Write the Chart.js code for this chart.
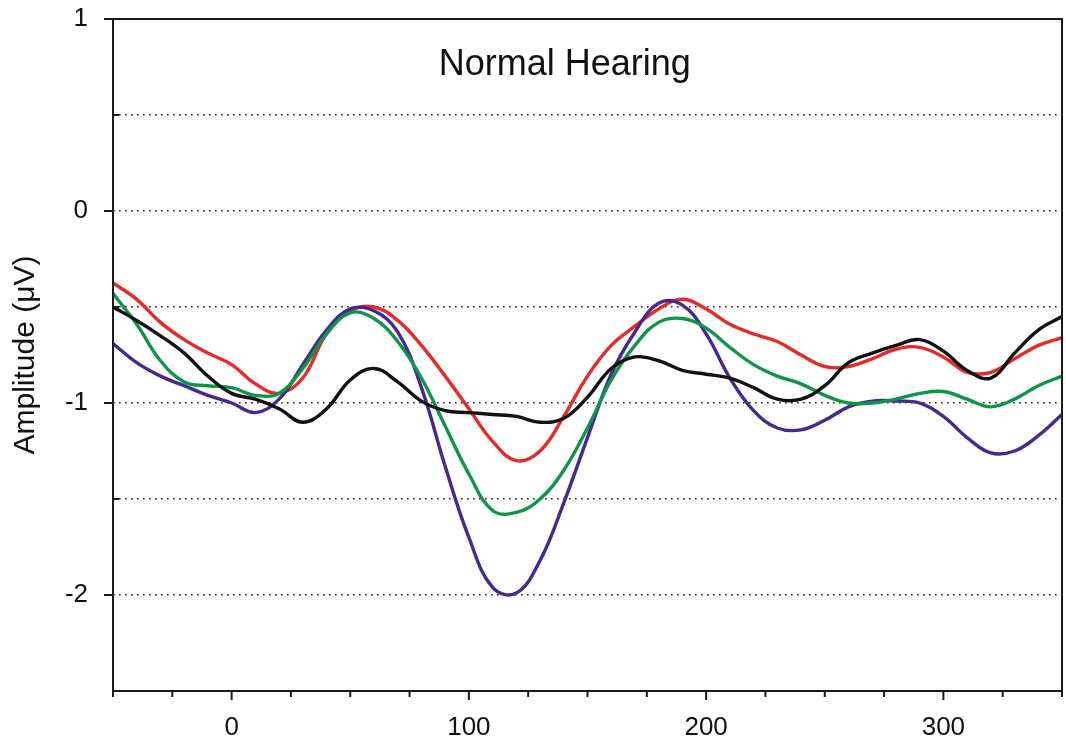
<!DOCTYPE html>
<html>
<head>
<meta charset="utf-8">
<script src="https://cdn.jsdelivr.net/npm/chart.js@4"></script>
<style>
  html, body { margin: 0; padding: 0; background: #ffffff; }
  #wrap { width: 1066px; height: 753px; position: relative; }
</style>
</head>
<body>
<div id="wrap"><canvas id="c" width="1066" height="753"></canvas></div>
<script>
// Time (ms) sample points
const times = [-50,-40,-30,-20,-10,0,10,20,30,40,50,60,70,80,90,100,110,120,130,140,150,160,170,180,190,200,210,220,230,240,250,260,270,280,290,300,310,320,330,340,350];

// Amplitude (µV) series
const blackSeries = [-0.50,-0.57,-0.65,-0.74,-0.86,-0.95,-0.98,-1.03,-1.10,-1.03,-0.88,-0.82,-0.89,-0.99,-1.04,-1.05,-1.06,-1.07,-1.10,-1.08,-0.97,-0.82,-0.76,-0.78,-0.83,-0.85,-0.87,-0.92,-0.98,-0.98,-0.91,-0.79,-0.74,-0.70,-0.67,-0.73,-0.83,-0.87,-0.74,-0.62,-0.55];
const redSeries   = [-0.375,-0.46,-0.58,-0.67,-0.74,-0.80,-0.90,-0.95,-0.87,-0.64,-0.52,-0.50,-0.57,-0.70,-0.86,-1.03,-1.20,-1.30,-1.25,-1.07,-0.86,-0.70,-0.60,-0.51,-0.46,-0.51,-0.59,-0.64,-0.68,-0.75,-0.81,-0.81,-0.77,-0.72,-0.71,-0.76,-0.84,-0.84,-0.77,-0.70,-0.66];
const greenSeries = [-0.43,-0.59,-0.78,-0.89,-0.91,-0.92,-0.96,-0.95,-0.82,-0.64,-0.53,-0.56,-0.68,-0.87,-1.12,-1.37,-1.56,-1.57,-1.50,-1.35,-1.13,-0.88,-0.70,-0.58,-0.56,-0.61,-0.71,-0.80,-0.86,-0.90,-0.96,-1.00,-1.00,-0.98,-0.95,-0.94,-0.98,-1.02,-0.98,-0.91,-0.86];
const purpleSeries= [-0.69,-0.79,-0.86,-0.91,-0.96,-1.00,-1.05,-0.98,-0.80,-0.62,-0.51,-0.52,-0.63,-0.92,-1.33,-1.70,-1.96,-1.99,-1.82,-1.52,-1.18,-0.85,-0.63,-0.48,-0.49,-0.64,-0.87,-1.04,-1.13,-1.14,-1.09,-1.02,-0.99,-0.99,-1.00,-1.07,-1.18,-1.26,-1.25,-1.17,-1.06];

// Axis labels
const xTickLabels = [0, 100, 200, 300];
const yTickLabels = [1, 0, -1, -2];
const chartTitle = "Normal Hearing";
const yAxisTitle = "Amplitude (\u03BCV)";

const FONT = "'Liberation Sans', Arial, Helvetica, sans-serif";

function toPoints(arr) { return times.map((t, i) => ({ x: t, y: arr[i] })); }

function ds(label, arr, color) {
  return {
    label: label,
    data: toPoints(arr),
    borderColor: color,
    backgroundColor: color,
    borderWidth: 3.4,
    pointRadius: 0,
    tension: 0.4,
    fill: false
  };
}

function zeroPad(s) { s.paddingLeft = 0; s.paddingRight = 0; s.paddingTop = 0; s.paddingBottom = 0; }

const frameAndTicks = {
  id: 'frameAndTicks',
  afterDatasetsDraw(chart) {
    const ctx = chart.ctx;
    const a = chart.chartArea;
    const xs = chart.scales.x, ys = chart.scales.y;
    ctx.save();
    ctx.strokeStyle = '#1a1a1a';
    ctx.lineWidth = 2;
    ctx.strokeRect(a.left, a.top, a.right - a.left, a.bottom - a.top);
    // x ticks (outward, down)
    xs.ticks.forEach(t => {
      const px = xs.getPixelForValue(t.value);
      const major = xTickLabels.includes(t.value);
      const len = major ? 9 : 6;
      ctx.beginPath();
      ctx.moveTo(px, a.bottom);
      ctx.lineTo(px, a.bottom + len);
      ctx.stroke();
    });
    // y ticks: labelled ones outward, half steps inward
    ys.ticks.forEach(t => {
      const py = ys.getPixelForValue(t.value);
      const major = yTickLabels.includes(t.value);
      ctx.beginPath();
      if (major) {
        ctx.moveTo(a.left - 9, py);
        ctx.lineTo(a.left, py);
      } else if (t.value !== -2.5) {
        ctx.moveTo(a.left, py);
        ctx.lineTo(a.left + 6, py);
      }
      ctx.stroke();
    });
    // title inside plot
    ctx.fillStyle = '#111111';
    ctx.font = '36px ' + FONT;
    ctx.textAlign = 'center';
    ctx.textBaseline = 'alphabetic';
    ctx.fillText(chartTitle, a.left + (a.right - a.left) * 0.476, a.top + 56);
    ctx.restore();
  }
};

new Chart(document.getElementById('c'), {
  type: 'line',
  data: {
    datasets: [
      ds('Black', blackSeries, '#111111'),
      ds('Green', greenSeries, '#0c9646'),
      ds('Purple', purpleSeries, '#45298e'),
      ds('Red', redSeries, '#e52b28')
    ]
  },
  options: {
    responsive: false,
    animation: false,
    devicePixelRatio: 1,
    layout: { padding: { top: 19, right: 4, left: 0, bottom: 0 } },
    plugins: { legend: { display: false }, tooltip: { enabled: false }, title: { display: false } },
    scales: {
      x: {
        type: 'linear',
        min: -50, max: 350,
        afterFit(s) { s.height = 62; zeroPad(s); },
        border: { display: false },
        grid: { display: false, drawTicks: false },
        ticks: {
          stepSize: 25,
          autoSkip: false,
          maxRotation: 0,
          padding: 21,
          color: '#111111',
          font: { family: FONT, size: 26 },
          callback: v => xTickLabels.includes(v) ? String(v) : ''
        }
      },
      y: {
        type: 'linear',
        min: -2.5, max: 1,
        afterFit(s) { s.width = 113; zeroPad(s); },
        border: { display: false, dash: [1.6, 4.4] },
        grid: {
          drawTicks: false,
          lineWidth: 1.4,
          color: c => (c.tick && (c.tick.value === 1 || c.tick.value === -2.5)) ? 'rgba(0,0,0,0)' : '#222222'
        },
        ticks: {
          stepSize: 0.5,
          autoSkip: false,
          padding: 25,
          color: '#111111',
          font: { family: FONT, size: 26 },
          callback: v => yTickLabels.includes(v) ? String(v) : ''
        },
        title: {
          display: true,
          text: yAxisTitle,
          color: '#111111',
          font: { family: FONT, size: 30 },
          padding: { top: 8, bottom: 0 }
        }
      }
    }
  },
  plugins: [frameAndTicks]
});
</script>
</body>
</html>
